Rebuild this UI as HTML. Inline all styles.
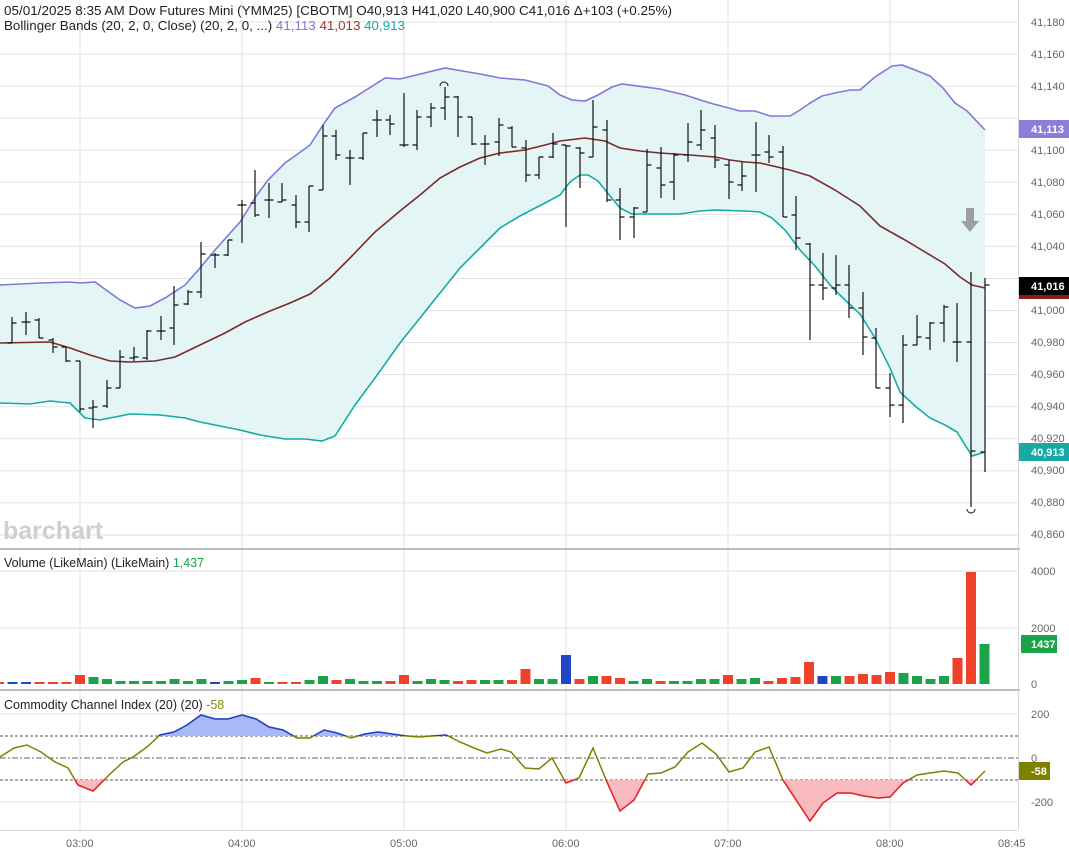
<!DOCTYPE html>
<html><head><meta charset="utf-8"><style>
html,body{margin:0;padding:0;background:#fff;}
svg{display:block;font-family:"Liberation Sans",sans-serif;}
</style></head><body>
<svg id="s" width="1069" height="857" viewBox="0 0 1069 857" xmlns="http://www.w3.org/2000/svg">
<g id="grid" stroke="#e2e2e2" stroke-width="1"></g>
<polygon id="band" fill="#e3f5f5" stroke="none"/>
<polyline id="up" fill="none" stroke="#8378d8" stroke-width="1.6"/>
<polyline id="mid" fill="none" stroke="#7b2a2a" stroke-width="1.6"/>
<polyline id="lo" fill="none" stroke="#16aaa5" stroke-width="1.6"/>
<path id="bars" fill="none" stroke="#111" stroke-width="1.2"/>
<g id="vol"></g>
<g id="cci"></g>
<rect x="0" y="548" width="1020" height="2" fill="#bdbdbd"/>
<rect x="0" y="689" width="1020" height="2" fill="#bdbdbd"/>
<line x1="1018.5" y1="0" x2="1018.5" y2="830" stroke="#d8d8d8"/>
<line x1="0" y1="830.5" x2="1018" y2="830.5" stroke="#d8d8d8"/>
<path d="M440 86 A4 4 0 0 1 448 86" fill="none" stroke="#111"/>
<path d="M967 509 A4 4 0 0 0 975 509" fill="none" stroke="#111"/>
<path d="M966 208 H974 V221 H979 L970 232 L961 221 H966 Z" fill="#9e9e9e"/>
<text x="3" y="539" font-size="25" font-weight="bold" fill="#cfcfcf">barchart</text>
<text x="4" y="15" font-size="12.5" fill="#222" textLength="668" lengthAdjust="spacingAndGlyphs">05/01/2025  8:35 AM Dow Futures Mini (YMM25) [CBOTM] O40,913 H41,020 L40,900 C41,016 Δ+103 (+0.25%)</text>
<text x="4" y="30" font-size="12.5" fill="#222" textLength="401" lengthAdjust="spacingAndGlyphs">Bollinger Bands (20, 2, 0, Close)  (20, 2, 0, ...) <tspan fill="#8378d8">41,113</tspan> <tspan fill="#a33">41,013</tspan> <tspan fill="#16aaa5">40,913</tspan></text>
<text x="4" y="567" font-size="12.5" fill="#222">Volume (LikeMain)  (LikeMain) <tspan fill="#1ca34a">1,437</tspan></text>
<text x="4" y="709" font-size="12.5" fill="#222">Commodity Channel Index (20)  (20) <tspan fill="#8a8a00">-58</tspan></text>
<g font-size="11" fill="#666">
<text x="1031" y="26">41,180</text><text x="1031" y="58">41,160</text><text x="1031" y="90">41,140</text>
<text x="1031" y="218">41,060</text><text x="1031" y="154">41,100</text><text x="1031" y="186">41,080</text>
<text x="1031" y="250">41,040</text><text x="1031" y="314">41,000</text><text x="1031" y="346">40,980</text>
<text x="1031" y="378">40,960</text><text x="1031" y="410">40,940</text><text x="1031" y="442">40,920</text>
<text x="1031" y="474">40,900</text><text x="1031" y="506">40,880</text><text x="1031" y="538">40,860</text>
<text x="1031" y="575">4000</text><text x="1031" y="632">2000</text><text x="1031" y="688">0</text>
<text x="1031" y="718">200</text><text x="1031" y="762">0</text><text x="1031" y="806">-200</text>
<text x="66" y="847">03:00</text><text x="228" y="847">04:00</text><text x="390" y="847">05:00</text>
<text x="552" y="847">06:00</text><text x="714" y="847">07:00</text><text x="876" y="847">08:00</text><text x="998" y="847">08:45</text>
</g>
<g font-size="11" font-weight="bold" fill="#fff">
<rect x="1019" y="120" width="50" height="18" fill="#8a7fd8"/><text x="1031" y="133">41,113</text>
<rect x="1019" y="277" width="50" height="18" fill="#000"/><rect x="1019" y="295" width="50" height="4" fill="#8b1a1a"/><text x="1031" y="290">41,016</text>
<rect x="1019" y="443" width="50" height="18" fill="#16aaa5"/><text x="1031" y="456">40,913</text>
<rect x="1021" y="635" width="36" height="18" fill="#1ca34a"/><text x="1031" y="648">1437</text>
<rect x="1019" y="762" width="31" height="18" fill="#808000"/><text x="1031" y="775">-58</text>
</g>
</svg>
<script>
var NS="http://www.w3.org/2000/svg";
function el(t,a,p){var e=document.createElementNS(NS,t);for(var k in a)e.setAttribute(k,a[k]);(p||document.getElementById('s')).appendChild(e);return e;}
var g=document.getElementById('grid');
for(var i=0;i<=16;i++){var y=22+i*32.06;el('line',{x1:0,x2:1018,y1:y,y2:y},g);}
[571,628].forEach(function(y){el('line',{x1:0,x2:1018,y1:y,y2:y},g);});
el('line',{x1:0,x2:1018,y1:714,y2:714},g);el('line',{x1:0,x2:1018,y1:802,y2:802},g);
[80,242,404,566,728,890].forEach(function(x){el('line',{x1:x,x2:x,y1:0,y2:830},g);});
function pts(a){var s=[];for(var i=0;i<a.length;i+=2)s.push(a[i]+','+a[i+1]);return s.join(' ');}
var up=[0,285,40,283,70,282,80,283,95,282,120,300,135,308,150,306,165,298,185,285,200,268,215,250,240,222,257,195,268,180,285,163,295,156,310,145,323,125,335,108,355,97,385,78,400,79,445,68,480,74,500,78,525,80,548,86,560,95,572,100,585,101,598,95,612,87,622,84,660,89,685,95,710,103,740,111,755,111,770,116,790,116,800,110,810,103,822,96,835,93,850,90,860,90,875,77,892,66,902,65,915,70,930,76,943,88,955,103,967,111,985,130];
var mid=[0,343,50,342,70,348,90,355,110,361,130,362,155,361,175,357,200,345,225,333,245,322,270,311,290,303,310,294,330,278,350,258,375,232,400,211,420,195,440,178,460,167,480,158,500,153,525,150,545,145,560,141,585,138,605,141,620,148,640,151,660,153,690,155,715,157,730,160,745,162,760,163,790,170,810,176,835,190,860,206,880,226,905,240,925,252,945,264,960,277,972,285,985,288];
var lo=[0,403,30,404,50,401,70,403,85,418,100,420,130,414,160,415,185,418,200,422,215,425,240,430,260,435,285,439,305,439,322,441,335,436,355,405,375,378,400,343,420,318,440,293,460,268,480,248,500,228,520,216,545,203,560,195,570,182,580,175,588,175,598,181,610,196,620,208,632,214,647,214,660,214,680,214,700,211,715,210,745,211,760,212,772,218,785,230,800,250,815,266,830,285,845,300,860,314,875,338,890,368,900,392,915,406,930,418,945,425,957,432,972,456,985,452];
document.getElementById('up').setAttribute('points',pts(up));
document.getElementById('mid').setAttribute('points',pts(mid));
document.getElementById('lo').setAttribute('points',pts(lo));
var rl=[];for(var i=lo.length-2;i>=0;i-=2)rl.push(lo[i],lo[i+1]);
document.getElementById('band').setAttribute('points',pts(up.concat(rl)));
var B=[[12,317,343,343,323],[26,312,335,322,322],[39,318,338,320,338],[53,338,353,340,347],[66,347,362,347,361],[80,361,412,361,409],[93,400,428,408,407],[107,380,408,406,388],[120,350,388,388,357],[134,347,361,358,357],[147,330,360,358,331],[161,316,340,331,331],[174,286,345,328,305],[188,290,305,304,292],[201,242,298,292,254],[215,253,268,255,255],[228,240,256,255,240],[242,200,243,205,205],[255,170,217,203,215],[269,183,218,200,200],[282,183,202,202,200],[296,195,228,205,222],[309,186,232,222,186],[323,125,190,190,136],[336,130,160,136,155],[350,150,185,158,158],[363,133,160,158,133],[377,110,137,120,120],[390,115,135,120,124],[404,93,147,145,145],[417,110,150,145,117],[431,103,127,117,108],[445,87,120,108,97],[458,96,137,97,117],[472,117,145,117,144],[485,135,165,144,144],[499,118,156,142,125],[512,126,147,128,147],[526,140,182,148,175],[539,157,179,175,157],[553,133,158,157,144],[566,145,227,145,146],[580,147,188,148,153],[593,100,157,157,127],[607,120,202,130,200],[620,188,240,200,217],[634,207,238,217,208],[647,149,212,212,165],[661,147,198,168,185],[674,153,200,182,155],[688,123,162,155,142],[701,110,150,145,130],[715,125,168,138,160],[729,160,199,165,182],[742,162,191,185,176],[756,122,192,155,155],[769,135,163,152,157],[783,146,217,152,217],[796,196,250,215,238],[810,243,340,244,285],[823,253,300,285,288],[836,255,295,288,285],[849,265,318,285,308],[863,292,355,308,337],[876,328,388,338,388],[890,373,417,388,405],[903,335,423,405,345],[917,315,345,345,337],[930,322,350,338,323],[944,305,342,323,307],[957,303,362,342,342],[971,272,507,342,451],[985,278,472,452,285]];
var d='';B.forEach(function(b){d+='M'+b[0]+' '+b[1]+'V'+b[2]+'M'+(b[0]-4.5)+' '+b[3]+'H'+b[0]+'M'+b[0]+' '+b[4]+'H'+(b[0]+4.5);});
document.getElementById('bars').setAttribute('d',d);
var V="r2 b2 b2 r2 r2 r2 r9 g7 g5 g3 g3 g3 g3 g5 g3 g5 b2 g3 g4 r6 g2 r2 r2 g4 g8 r4 g5 g3 g3 r3 r9 g3 g5 g4 r3 r4 g4 g4 r4 r15 g5 g5 b29 r5 g8 r8 r6 g3 g5 r3 g3 g3 g5 g5 r9 g5 g6 r3 r6 r7 r22 b8 g8 r8 r10 r9 r12 g11 g8 g5 g8 r26 r112 g40".split(' ');
var C={r:'#f0412a',g:'#1ca34a',b:'#2146c6'};var vg=document.getElementById('vol');
V.forEach(function(v,i){var h=+v.slice(1);var x=-1+13.5*i;el('rect',{x:x-5,y:684-h,width:10,height:h,fill:C[v[0]]},vg);});
var cg=document.getElementById('cci');
el('line',{x1:0,x2:1018,y1:736,y2:736,stroke:'#555','stroke-dasharray':'3,2'},cg);
el('line',{x1:0,x2:1018,y1:780,y2:780,stroke:'#555','stroke-dasharray':'3,2'},cg);
el('line',{x1:0,x2:1018,y1:758,y2:758,stroke:'#666','stroke-dasharray':'6,2,2,2'},cg);
var cc=[0,757,14,748,27,745,41,752,55,762,68,768,78,785,93,791,109,775,123,762,133,757,147,747,160,735,174,732,187,725,201,715,215,719,228,719,242,715,256,719,269,727,283,730,297,738,310,738,324,730,337,733,351,738,365,734,378,732,392,734,406,736,419,737,433,736,446,735,460,742,474,748,487,753,501,749,511,752,525,768,539,769,552,758,566,783,579,778,593,748,607,782,620,811,634,800,648,774,661,773,675,767,688,752,702,743,716,754,729,772,743,768,755,752,769,747,783,780,810,821,823,803,837,793,851,793,864,796,878,798,890,797,903,783,917,775,930,773,944,771,958,773,971,785,985,771];
var defs=el('defs',{},cg);
var c1=el('clipPath',{id:'ca'},defs);el('rect',{x:0,y:690,width:1018,height:46},c1);
var c2=el('clipPath',{id:'cb'},defs);el('rect',{x:0,y:780,width:1018,height:50},c2);
var P=pts(cc);
el('polyline',{points:P,fill:'none',stroke:'#808000','stroke-width':1.5},cg);
var ga=el('g',{'clip-path':'url(#ca)'},cg);
el('polygon',{points:'0,736 '+P+' 985,736',fill:'#a9b9f5'},ga);
el('polyline',{points:P,fill:'none',stroke:'#2040d0','stroke-width':1.5},ga);
var gb=el('g',{'clip-path':'url(#cb)'},cg);
el('polygon',{points:'0,780 '+P+' 985,780',fill:'#f8b9bf'},gb);
el('polyline',{points:P,fill:'none',stroke:'#e8202a','stroke-width':1.5},gb);
</script>
</body></html>
